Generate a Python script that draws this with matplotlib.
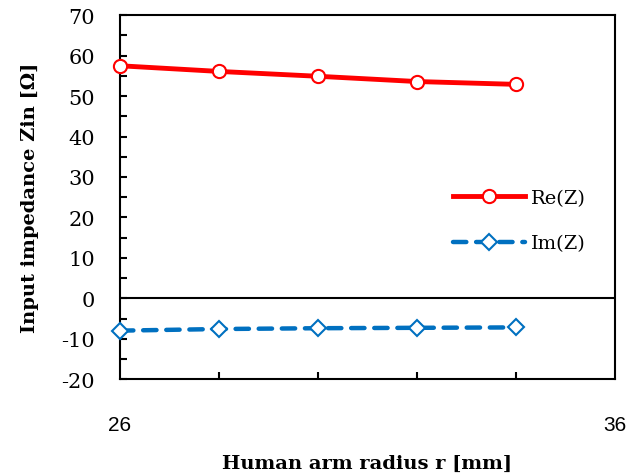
import matplotlib
matplotlib.use("Agg")
import matplotlib.pyplot as plt
from matplotlib.ticker import MultipleLocator, FixedLocator

plt.rcParams["axes.unicode_minus"] = False

# data
radius = [26, 28, 30, 32, 34]
re_z = [57.5, 56.1, 54.9, 53.6, 52.9]
im_z = [-8.0, -7.6, -7.4, -7.3, -7.2]

serif = ["DejaVu Serif"]
sans = ["Liberation Sans", "DejaVu Sans"]

fig = plt.figure(figsize=(6.42, 4.77), dpi=100)
ax = fig.add_axes([0.187, 0.203, 0.771, 0.763])

ax.plot(radius, re_z, color="#ff0000", lw=3.5, marker="o", ms=9.5,
        mfc="white", mec="#ff0000", mew=1.5, label="Re(Z)", zorder=3,
        clip_on=False)
ax.plot(radius, im_z, color="#0070c0", lw=3.2, marker="D", ms=8,
        mfc="white", mec="#0070c0", mew=1.5, dashes=(3, 2.2),
        dash_capstyle="round", label="Im(Z)", zorder=3, clip_on=False)
ax.axhline(0, color="black", lw=1.5, zorder=2)

ax.set_xlim(26, 36)
ax.set_ylim(-20, 70)
ax.yaxis.set_major_locator(MultipleLocator(10))
ax.yaxis.set_minor_locator(MultipleLocator(5))
ax.xaxis.set_major_locator(FixedLocator([26, 36]))
ax.xaxis.set_minor_locator(FixedLocator([28, 30, 32, 34]))

for s in ax.spines.values():
    s.set_linewidth(1.5)
ax.tick_params(axis="y", which="both", direction="in", length=5, width=1.5, pad=18)
ax.tick_params(axis="x", which="major", length=0, pad=26)
ax.tick_params(axis="x", which="minor", direction="in", length=5, width=1.5)

for lab in ax.get_yticklabels():
    lab.set_family(serif)
    lab.set_fontsize(15)
for lab in ax.get_xticklabels():
    lab.set_family(sans)
    lab.set_fontsize(15)

ax.set_ylabel("Input impedance Zin [\u03a9]", family=serif, fontweight="bold",
              fontsize=14, labelpad=16)
ax.set_xlabel("Human arm radius r [mm]", family=serif, fontweight="bold",
              fontsize=14, labelpad=14)

ax.legend(loc="upper left", bbox_to_anchor=(0.673, 0.522), frameon=False,
          borderpad=0, borderaxespad=0,
          prop={"family": serif, "size": 14}, handlelength=3.7,
          labelspacing=1.4, handletextpad=0.3)

fig.savefig("out.png", dpi=100)
